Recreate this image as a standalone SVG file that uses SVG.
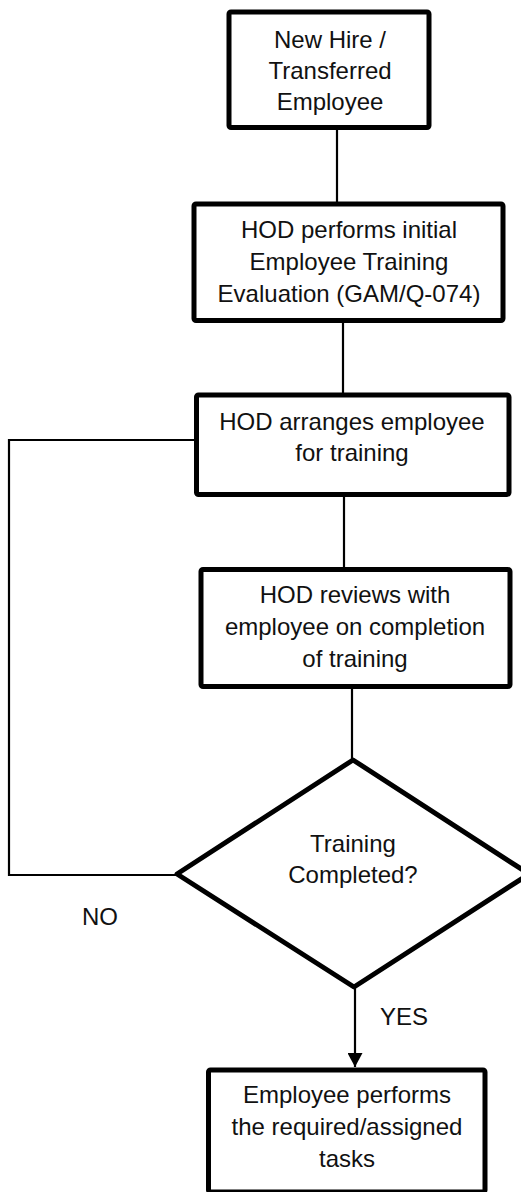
<svg xmlns="http://www.w3.org/2000/svg" width="521" height="1192" viewBox="0 0 521 1192">
<defs>
<style>
.box{fill:#fff;stroke:#000;stroke-width:5;stroke-linejoin:round}
.t{font-family:"Liberation Sans",Arial,sans-serif;font-size:24px;fill:#111;text-anchor:middle}
.c{fill:none;stroke:#000;stroke-width:2.2}
</style>
<marker id="arr" markerWidth="16" markerHeight="15" refX="15" refY="8" orient="auto" markerUnits="userSpaceOnUse" viewBox="0 0 16 16">
<path d="M0,0 L15,8 L0,16 Z" fill="#000"/>
</marker>
</defs>
<rect width="521" height="1192" fill="#fff"/>
<g id="connectors">
<line class="c" x1="337" y1="128" x2="337" y2="204"/>
<line class="c" x1="343" y1="321" x2="343" y2="395"/>
<line class="c" x1="344" y1="495" x2="344" y2="570"/>
<line class="c" x1="352" y1="687" x2="352" y2="760"/>
<polyline class="c" points="196,440 9,440 9,875 177,875"/>
<line class="c" x1="355" y1="987" x2="355" y2="1067" marker-end="url(#arr)"/>
<text class="t" x="100" y="925">NO</text>
<text class="t" x="380" y="1025" style="text-anchor:start">YES</text>
</g>
<g id="n1">
<rect class="box" x="229" y="12" width="200" height="115.5" rx="2"/>
<text class="t" x="330" y="48">New Hire /</text>
<text class="t" x="330" y="79">Transferred</text>
<text class="t" x="330" y="110">Employee</text>
</g>
<g id="n2">
<rect class="box" x="194" y="204" width="309" height="116.5" rx="2"/>
<text class="t" x="349" y="238">HOD performs initial</text>
<text class="t" x="349" y="270">Employee Training</text>
<text class="t" x="349" y="302">Evaluation (GAM/Q-074)</text>
</g>
<g id="n3">
<rect class="box" x="196.5" y="395" width="312.5" height="99.5" rx="2"/>
<text class="t" x="352" y="430">HOD arranges employee</text>
<text class="t" x="352" y="461">for training</text>
</g>
<g id="n4">
<rect class="box" x="201" y="569.5" width="309" height="117" rx="2"/>
<text class="t" x="355" y="603">HOD reviews with</text>
<text class="t" x="355" y="635">employee on completion</text>
<text class="t" x="355" y="667">of training</text>
</g>
<g id="n5">
<polygon class="box" points="353,760 529,874 354,987 177,874"/>
<text class="t" x="353" y="852">Training</text>
<text class="t" x="353" y="883">Completed?</text>
</g>
<g id="n6">
<rect class="box" x="208.5" y="1070" width="276.5" height="122" rx="2"/>
<text class="t" x="347" y="1103">Employee performs</text>
<text class="t" x="347" y="1135">the required/assigned</text>
<text class="t" x="347" y="1167">tasks</text>
</g>
</svg>
